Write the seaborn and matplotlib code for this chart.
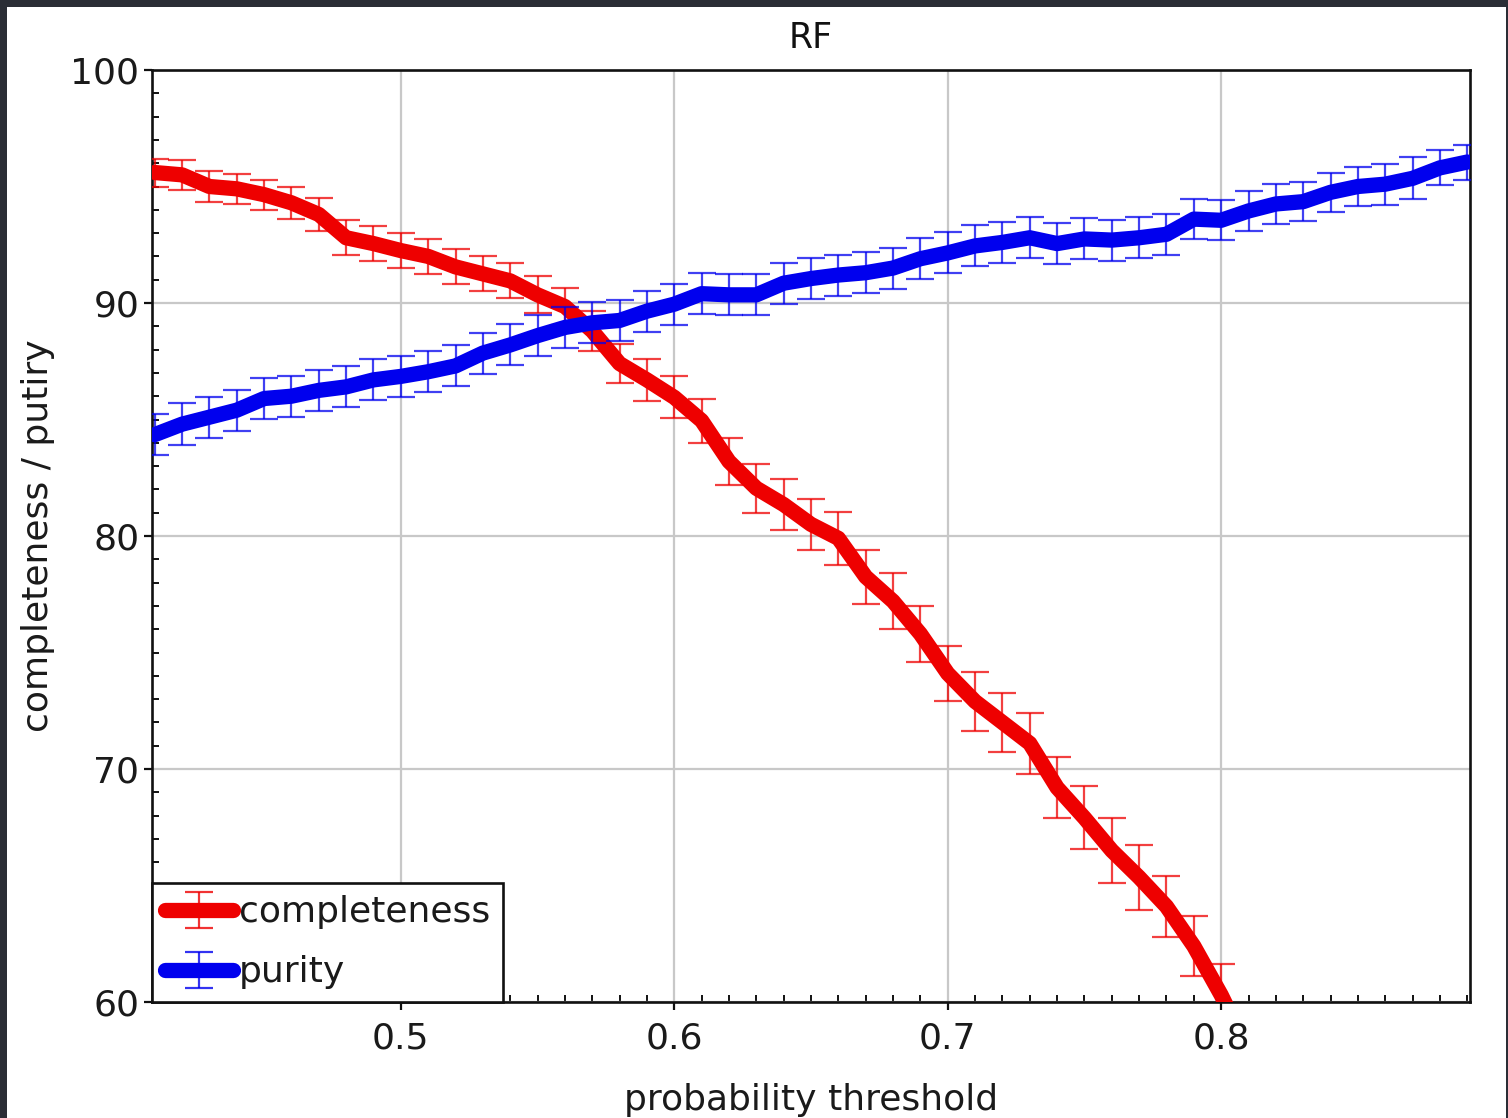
import numpy as np
import pandas as pd
import matplotlib
matplotlib.use("Agg")
import matplotlib.pyplot as plt
from matplotlib.patches import Rectangle
from matplotlib.ticker import MultipleLocator
import seaborn as sns

# probability thresholds scanned
thresholds = [0.41, 0.42, 0.43, 0.44, 0.45, 0.46, 0.47, 0.48, 0.49, 0.50,
              0.51, 0.52, 0.53, 0.54, 0.55, 0.56, 0.57, 0.58, 0.59, 0.60,
              0.61, 0.62, 0.63, 0.64, 0.65, 0.66, 0.67, 0.68, 0.69, 0.70,
              0.71, 0.72, 0.73, 0.74, 0.75, 0.76, 0.77, 0.78, 0.79, 0.80,
              0.81, 0.82, 0.83, 0.84, 0.85, 0.86, 0.87, 0.88, 0.89]

# completeness (%) and its uncertainty, thresholds 0.41 .. 0.81
completeness = [95.6, 95.5, 95.0, 94.9, 94.65, 94.3, 93.8, 92.8, 92.55, 92.25,
                92.0, 91.55, 91.25, 90.95, 90.35, 89.85, 88.8, 87.4, 86.7, 85.95,
                84.95, 83.2, 82.05, 81.35, 80.5, 79.9, 78.25, 77.2, 75.8, 74.1,
                72.9, 72.0, 71.1, 69.2, 67.9, 66.5, 65.35, 64.1, 62.4, 60.3,
                57.9]
completeness_err = [0.6, 0.64, 0.65, 0.65, 0.65, 0.7, 0.7, 0.75, 0.75, 0.75,
                    0.75, 0.75, 0.75, 0.75, 0.8, 0.8, 0.85, 0.85, 0.9, 0.9,
                    0.95, 1.0, 1.05, 1.1, 1.1, 1.15, 1.15, 1.2, 1.2, 1.2,
                    1.25, 1.25, 1.3, 1.3, 1.35, 1.4, 1.4, 1.3, 1.3, 1.35,
                    1.4]

# purity (%) and its uncertainty, thresholds 0.41 .. 0.89
purity = [84.35, 84.8, 85.1, 85.4, 85.9, 86.0, 86.25, 86.4, 86.7, 86.85,
          87.05, 87.3, 87.85, 88.2, 88.6, 88.95, 89.15, 89.25, 89.65, 89.95,
          90.4, 90.35, 90.35, 90.85, 91.05, 91.2, 91.3, 91.5, 91.9, 92.15,
          92.45, 92.6, 92.8, 92.55, 92.75, 92.7, 92.8, 92.95, 93.6, 93.55,
          93.95, 94.25, 94.35, 94.75, 95.0, 95.1, 95.35, 95.8, 96.05]
purity_err = [0.88, 0.89, 0.88, 0.88, 0.88, 0.88, 0.88, 0.88, 0.88, 0.88,
              0.88, 0.88, 0.88, 0.88, 0.88, 0.88, 0.88, 0.88, 0.88, 0.88,
              0.88, 0.88, 0.88, 0.88, 0.88, 0.88, 0.88, 0.88, 0.88, 0.88,
              0.88, 0.88, 0.89, 0.88, 0.88, 0.88, 0.88, 0.88, 0.85, 0.85,
              0.85, 0.85, 0.85, 0.85, 0.85, 0.88, 0.9, 0.75, 0.75]

series_names = ["completeness", "purity"]
series_colors = {"completeness": "#ee0000", "purity": "#0000ee"}

df = pd.concat([
    pd.DataFrame({"threshold": thresholds[:len(completeness)],
                  "value": completeness, "err": completeness_err,
                  "series": "completeness"}),
    pd.DataFrame({"threshold": thresholds, "value": purity,
                  "err": purity_err, "series": "purity"}),
], ignore_index=True)

sns.set_theme(style="white")
plt.rcParams["font.family"] = ["DejaVu Sans"]

fig = plt.figure(figsize=(15.08, 11.18), dpi=100)
fig.patch.set_facecolor("white")
ax = fig.add_axes([152 / 1508, 1 - 1002 / 1118, 1318 / 1508, 932 / 1118])
ax.set_facecolor("white")

line_w = 11
for i, name in enumerate(series_names):
    sub = df[df["series"] == name]
    col = series_colors[name]
    ax.errorbar(sub["threshold"], sub["value"], yerr=sub["err"], fmt="none",
                ecolor=matplotlib.colors.to_rgba(col, 0.75), elinewidth=1.6,
                capsize=10, capthick=1.6, zorder=3 + 2 * i)
    sns.lineplot(data=sub, x="threshold", y="value", ax=ax, color=col,
                 linewidth=line_w, legend=False, zorder=4 + 2 * i,
                 solid_capstyle="round", solid_joinstyle="round")

ax.set_xlim(0.409, 0.891)
ax.set_ylim(60, 100)
ax.xaxis.set_major_locator(MultipleLocator(0.1))
ax.xaxis.set_minor_locator(MultipleLocator(0.01))
ax.yaxis.set_major_locator(MultipleLocator(10))
ax.yaxis.set_minor_locator(MultipleLocator(1))
ax.set_xticks([0.5, 0.6, 0.7, 0.8])
ax.set_xticklabels(["0.5", "0.6", "0.7", "0.8"])
ax.set_yticks([60, 70, 80, 90, 100])
ax.set_yticklabels(["60", "70", "80", "90", "100"])

ax.grid(True, which="major", color="#c8c8c8", linewidth=1.6)
ax.set_axisbelow(True)
for side in ["left", "right", "top", "bottom"]:
    ax.spines[side].set_visible(True)
    ax.spines[side].set_color("#111111")
    ax.spines[side].set_linewidth(1.9)

ax.tick_params(axis="both", which="major", direction="out", length=6,
               width=1.6, color="#111111", labelsize=26, labelcolor="#1a1a1a",
               bottom=True, left=True, top=False, right=False)
ax.tick_params(axis="x", which="major", pad=8)
ax.tick_params(axis="y", which="major", pad=3)
ax.tick_params(axis="both", which="minor", direction="in", length=5,
               width=1.4, color="#111111", bottom=True, left=True,
               top=False, right=False)

ax.set_xlabel("probability threshold", fontsize=26, color="#1a1a1a",
              labelpad=20)
ax.set_ylabel("completeness / putiry", fontsize=26, color="#1a1a1a",
              labelpad=11)
ax.set_title("RF", fontsize=25, color="#111111", pad=16,
             family=["DejaVu Sans Condensed", "Liberation Sans Narrow",
                     "DejaVu Sans"])

# legend entries: thick line with an error-bar glyph
handles = []
for name in series_names:
    col = series_colors[name]
    h = ax.errorbar([np.nan], [np.nan], yerr=[0.5], color=col,
                    linewidth=line_w, ecolor=matplotlib.colors.to_rgba(col, 0.8),
                    elinewidth=1.6, capsize=10, capthick=1.6,
                    solid_capstyle="round")
    handles.append(h)
leg = ax.legend(handles, series_names, loc="lower left",
                bbox_to_anchor=(0, 0), borderaxespad=0, fontsize=26,
                frameon=True, fancybox=False, framealpha=1,
                edgecolor="#111111", handlelength=1.9, handletextpad=0.15,
                labelspacing=0.72, borderpad=0.35)
for t in leg.get_texts():
    t.set_color("#1a1a1a")
leg.get_frame().set_linewidth(1.9)
leg.set_zorder(10)

# dark surround along the top, left and right edges
for (x0, y0, w, h) in [(0, 1 - 7 / 1118, 1, 7 / 1118),
                       (0, 0, 7 / 1508, 1),
                       (1506 / 1508, 0, 2 / 1508, 1)]:
    fig.add_artist(Rectangle((x0, y0), w, h, transform=fig.transFigure,
                             facecolor="#2a2d35", edgecolor="none", zorder=20))

fig.savefig("out.png", dpi=100, facecolor=fig.get_facecolor())
